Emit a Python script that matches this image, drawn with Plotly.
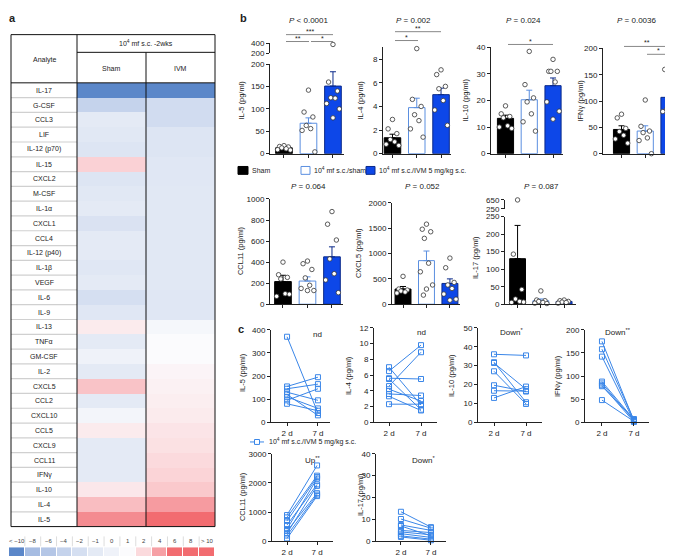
import plotly.graph_objects as go

W, H = 673, 559
FONT = "Liberation Sans, Arial, sans-serif"

# ---------------- data: panel a (heatmap) ----------------
analytes = ["IL-17", "G-CSF", "CCL3", "LIF", "IL-12 (p70)", "IL-15", "CXCL2", "M-CSF",
            "IL-1α", "CXCL1", "CCL4", "IL-12 (p40)", "IL-1β", "VEGF", "IL-6", "IL-9",
            "IL-13", "TNFα", "GM-CSF", "IL-2", "CXCL5", "CCL2", "CXCL10", "CCL5",
            "CXCL9", "CCL11", "IFNγ", "IL-10", "IL-4", "IL-5"]
sham_fold = [-11, -4, -1, -1.2, -1.5, 2.3, -1.5, -1.2, -1, -1.7, -1, -1, -1.3, -1, -2, -1.3,
             1.5, -1, 0, -1, 2.8, -1, 0.3, 1.5, -1, -1, -1, 1.6, 3, 4.8]
ivm_fold = [-11, -2.5, -2.5, -1.5, -1.5, -1.3, -1.3, -1.2, -1.2, -1.2, -1.2, -1.2, -1.2, -1.2,
            -1.3, -1.3, 0.5, 1, 1, 1.2, 1.3, 1.4, 1.5, 1.7, 1.8, 2, 2.2, 2.6, 4.2, 6.5]
legend_labels = ["< −10", "−8", "−6", "−4", "−2", "−1", "0", "1", "2", "4", "6", "8", "> 10"]
legend_values = [-11, -8, -6, -4, -2, -1, 0, 1, 2, 4, 6, 8, 11]
group_names = ["Sham", "IVM"]

# ---------------- data: panel b (bars) ----------------
b_il5 = dict(mean=[13, 68, 151], sem=[3, 12, 32],
             pts=[[18, 16, 15, 13, 11, 9, 8], [142, 93, 82, 63, 56, 52, 4],
                  [380, 160, 140, 125, 124, 112, 100, 80]])
b_il4 = dict(mean=[1.35, 3.9, 5.0], sem=[0.3, 0.8, 0.55],
             pts=[[2.9, 2.1, 1.7, 1.2, 1.0, 0.8, 0.7], [8.9, 4.6, 4.0, 3.3, 2.8, 2.1, 1.4],
                  [7.1, 6.7, 5.7, 5.5, 4.5, 3.7, 2.4]])
b_il10 = dict(mean=[13.3, 20.3, 25.6], sem=[1.2, 3.6, 2.9],
              pts=[[18, 15, 14, 13.5, 10.5, 10, 9.5], [38.5, 26, 21, 19.5, 15, 12, 8.5],
                   [35.5, 31, 31, 31, 27, 19.5, 16, 13]])
b_ifng = dict(mean=[46, 43, 107], sem=[7, 10, 15],
              pts=[[75, 68, 48, 42, 35, 28, 20], [102, 52, 43, 40, 30, 25, 0],
                   [175, 160, 140, 85, 80, 80, 75, 50]])
b_ccl11 = dict(mean=[215, 220, 450], sem=[60, 40, 95],
               pts=[[400, 280, 255, 240, 100, 75, 95], [410, 385, 330, 250, 180, 150, 130, 130],
                    [880, 760, 610, 430, 290, 230, 110]])
b_cxcl5 = dict(mean=[300, 860, 410], sem=[50, 190, 90],
               pts=[[550, 300, 280, 260, 240, 220], [1580, 1480, 1430, 1300, 810, 640, 380, 300, 180],
                    [910, 720, 430, 380, 310, 200, 100, 80]])
b_il17 = dict(mean=[130, 10, 8], sem=[95, 5, 3],
              pts=[[650, 143, 42, 15, 8, 5, 6], [38, 12, 10, 8, 5, 3, 2],
                   [12, 10, 8, 6, 5, 3]])

# ---------------- data: panel c (paired) ----------------
days = ["2 d", "7 d"]
c_il5 = ([370, 155, 145, 130, 120, 110, 95, 80], [40, 195, 165, 95, 30, 60, 145, 50])
c_il4 = ([7.0, 6.5, 5.6, 5.5, 4.6, 4.2, 3.6, 3.3, 2.3], [2.2, 9.8, 5.5, 1.6, 8.9, 2.7, 3.4, 1.5, 2.3])
c_il10 = ([36, 31.8, 31.4, 27, 19.6, 16.7, 12.9], [35.4, 10.6, 17.5, 9.7, 16.3, 16.5, 18.9])
c_ifng = ([175, 158, 142, 88, 84, 80, 78, 48], [3, 5, 2, 6, 4, 1, 7, 2])
c_ccl11 = ([900, 820, 700, 560, 420, 350, 280, 200, 100],
           [2600, 2250, 2200, 1950, 2150, 1650, 1900, 1600, 1550])
c_il17 = ([13.5, 10.2, 7.5, 7.0, 5.0, 4.3, 3.5, 2.5, 2.0], [6.5, 6.0, 5.0, 2.5, 4.0, 3.0, 1.8, 1.0, 0.5])

# ---------------- styles ----------------
BLUE = "#0d47e8"
BLUE_DARK = "#0b2a8a"
OPEN_EDGE = "#5b8fe0"
LINE_BLUE = "#3a86e8"
bar_fill = ["#000000", "#ffffff", BLUE]
bar_edge = ["#000000", OPEN_EDGE, BLUE_DARK]
err_col = ["#000000", OPEN_EDGE, BLUE_DARK]

cs_stops = [(-11, '#5b87c9'), (-8, '#a6bce2'), (-6, '#b4c6e6'), (-4, '#c5d3ec'), (-2, '#d5dff1'),
            (-1, '#e4eaf5'), (0, '#eff2f9'), (1, '#fbfbfd'), (2, '#fbdadd'), (4, '#f6a0a5'),
            (6, '#f26c70'), (11, '#f26c70')]
colorscale = [[(v + 11) / 22, c] for v, c in cs_stops]


def px(x):
    return x / W


def py(y):
    return 1 - y / H


fig = go.Figure()
layout = {}
shapes = []
annotations = []
counter = [0]

base_axis = dict(showline=True, linecolor="#222", linewidth=1, ticks="outside", ticklen=3,
                 tickwidth=1, tickcolor="#222", tickfont=dict(size=8, color="#222", family=FONT),
                 showgrid=False, zeroline=False, fixedrange=True)


def new_pair(xd, yd, xr, yr, xkw=None, ykw=None):
    counter[0] += 1
    n = counter[0]
    sx = "" if n == 1 else str(n)
    layout["xaxis" + sx] = {**base_axis, "domain": [px(xd[0]), px(xd[1])], "range": xr,
                            "anchor": "y" + sx, **(xkw or {})}
    layout["yaxis" + sx] = {**base_axis, "domain": [py(yd[1]), py(yd[0])], "range": yr,
                            "anchor": "x" + sx, **(ykw or {})}
    return "x" + sx, "y" + sx


def extra_y(xid, yd, yr, ykw=None):
    counter[0] += 1
    n = counter[0]
    layout["yaxis" + str(n)] = {**base_axis, "domain": [py(yd[1]), py(yd[0])], "range": yr,
                                "anchor": xid, **(ykw or {})}
    return "y" + str(n)


def text(x, y, s, size=8, angle=0, xanchor="center", bold=False, color="#222"):
    if bold:
        s = "<b>" + s + "</b>"
    annotations.append(dict(x=px(x), y=py(y), xref="paper", yref="paper", text=s, showarrow=False,
                            textangle=angle, xanchor=xanchor, yanchor="middle",
                            font=dict(size=size, color=color, family=FONT)))


def hline(x0, x1, y, color="#222", width=1):
    shapes.append(dict(type="line", xref="paper", yref="paper", x0=px(x0), x1=px(x1),
                       y0=py(y), y1=py(y), line=dict(color=color, width=width), layer="above"))


def vline(x, y0, y1, color="#222", width=1):
    shapes.append(dict(type="line", xref="paper", yref="paper", x0=px(x), x1=px(x),
                       y0=py(y0), y1=py(y1), line=dict(color=color, width=width), layer="above"))


# ---------------- panel a ----------------
hx, hy = new_pair((69, 207), (72, 523), [-0.5, 1.5], [len(analytes) - 0.5, -0.5],
                  xkw=dict(visible=False), ykw=dict(visible=False))
fig.add_trace(go.Heatmap(z=[[s, v] for s, v in zip(sham_fold, ivm_fold)], x=[0, 1],
                         y=list(range(len(analytes))), colorscale=colorscale, zmin=-11, zmax=11,
                         showscale=False, xaxis=hx, yaxis=hy, hoverinfo="skip"))
lx, ly = new_pair((1, 207), (544, 553), [-0.5, len(legend_values) - 0.5], [-0.5, 0.5],
                  xkw=dict(visible=False), ykw=dict(visible=False))
fig.add_trace(go.Heatmap(z=[legend_values], x=list(range(len(legend_values))), y=[0],
                         colorscale=colorscale, zmin=-11, zmax=11, showscale=False, xgap=1,
                         xaxis=lx, yaxis=ly, hoverinfo="skip"))
cell_w = (207 - 1) / len(legend_labels)
for i, lab in enumerate(legend_labels):
    text(1 + cell_w * (i + 0.5), 538, lab, size=6, color="#444")
    if i > 0:
        vline(1 + cell_w * i, 533, 543, color="#dddddd")

row_h = (523 - 72) / len(analytes)
for i, a in enumerate(analytes):
    text(36, 72 + row_h * (i + 0.5), a, size=7)
    if i > 0:
        hline(3, 69, 72 + row_h * i, color="#d0d0d0", width=1.2)
text(36, 49, "Analyte", size=7)
text(138, 32, "10<sup>4</sup> mf s.c. -2wks", size=7)
text(103, 57, group_names[0], size=7)
text(173, 57, group_names[1], size=7)
shapes.append(dict(type="rect", xref="paper", yref="paper", x0=px(3), x1=px(207), y0=py(523),
                   y1=py(23), line=dict(color="#111", width=1), layer="above"))
vline(69, 23, 523, color="#111")
vline(138, 41, 523, color="#111")
hline(69, 207, 41, color="#111")
hline(3, 207, 72, color="#111")
text(4, 6, "a", size=11, bold=True)

# ---------------- panel b ----------------
jit = [0, -0.18, 0.18, -0.09, 0.09, -0.26, 0.26, 0.0, -0.13, 0.13]


def bar_chart(d, xd, yd, xr, yr, tickvals, upper=None):
    xid, yid = new_pair(xd, yd, xr, yr,
                        xkw=dict(tickvals=[0, 1, 2], showticklabels=False),
                        ykw=dict(tickvals=tickvals))
    uid = None
    if upper:
        uid = extra_y(xid, upper["yd"], upper["yr"], ykw=dict(tickvals=upper["ticks"]))
    for i in range(3):
        fig.add_trace(go.Bar(x=[i], y=[d["mean"][i]], width=0.68,
                             marker=dict(color=bar_fill[i], line=dict(color=bar_edge[i], width=1)),
                             error_y=dict(type="data", array=[d["sem"][i]], arrayminus=[0],
                                          symmetric=False, color=err_col[i], thickness=1, width=3),
                             xaxis=xid, yaxis=yid, hoverinfo="skip"))
    for i in range(3):
        lo_x, lo_y, hi_x, hi_y = [], [], [], []
        for k, v in enumerate(d["pts"][i]):
            xv = i + jit[k % len(jit)]
            if upper and v > upper["yr"][0]:
                hi_x.append(xv)
                hi_y.append(v)
            else:
                lo_x.append(xv)
                lo_y.append(v)
        mk = dict(symbol="circle", size=4.5, color="white", line=dict(color="#333", width=0.8))
        fig.add_trace(go.Scatter(x=lo_x, y=lo_y, mode="markers", marker=mk, cliponaxis=False,
                                 xaxis=xid, yaxis=yid, hoverinfo="skip"))
        if hi_x:
            fig.add_trace(go.Scatter(x=hi_x, y=hi_y, mode="markers", marker=mk, cliponaxis=False,
                                     xaxis=xid, yaxis=uid, hoverinfo="skip"))


bar_chart(b_il5, (262, 336), (53, 144), [-0.57, 2.45], [0, 200], [0, 50, 100, 150, 200],
          upper=dict(yd=(32, 42), yr=[200, 400], ticks=[200, 400]))
bar_chart(b_il4, (375, 443), (36, 144), [-0.39, 2.41], [0, 9], [0, 2, 4, 6, 8])
bar_chart(b_il10, (483, 555), (36, 144), [-0.61, 2.42], [0, 40], [0, 10, 20, 30, 40])
bar_chart(b_ifng, (595, 670), (37, 144), [-0.78, 2.38], [0, 200], [0, 50, 100, 150, 200])
bar_chart(b_ccl11, (262, 335), (190, 297), [-0.53, 2.45], [0, 1000], [0, 200, 400, 600, 800, 1000])
bar_chart(b_cxcl5, (384, 452), (194, 297), [-0.47, 2.43], [0, 2000], [0, 500, 1000, 1500, 2000])
bar_chart(b_il17, (497, 568), (208, 297), [-0.54, 2.51], [0, 250], [0, 50, 100, 150, 200, 250],
          upper=dict(yd=(191, 200), yr=[250, 650], ticks=[250, 650]))

# titles, labels, brackets
for x, y, s in [(300, 9, "<i>P</i> < 0.0001"), (405, 9, "<i>P</i> = 0.002"), (515, 9, "<i>P</i> = 0.024"),
                (628, 9, "<i>P</i> = 0.0036"), (300, 177, "<i>P</i> = 0.064"),
                (414, 177, "<i>P</i> = 0.052"), (533, 177, "<i>P</i> = 0.087")]:
    text(x, y, s, size=8)
for x, y, s in [(234, 90, "IL-5 (pg/ml)"), (353, 90, "IL-4 (pg/ml)"), (458, 90, "IL-10 (pg/ml)"),
                (573, 90, "IFNγ (pg/ml)"), (232, 243, "CCL11 (pg/ml)"), (350, 245, "CXCL5 (pg/ml)"),
                (468, 250, "IL-17 (pg/ml)")]:
    text(x, y, s, size=7.5, angle=-90)
for x0, x1, y, star in [(278, 325, 23, "***"), (278, 301, 30, "**"), (303, 325, 30, "*"),
                        (387, 433, 20, "**"), (387, 410, 29, "*"), (500, 545, 33, "*"),
                        (616, 661, 35, "**"), (639, 661, 43, "*")]:
    hline(x0, x1, y, color="#888", width=1)
    text((x0 + x1) / 2, y - 3.5, star, size=7)
text(236, 6, "b", size=11, bold=True)

# legend for b
shapes.append(dict(type="rect", xref="paper", yref="paper", x0=px(230), x1=px(240), y0=py(165),
                   y1=py(157), fillcolor="#000", line=dict(color="#000", width=1)))
text(242, 161, "Sham", size=7, xanchor="left")
shapes.append(dict(type="rect", xref="paper", yref="paper", x0=px(293), x1=px(302), y0=py(165),
                   y1=py(157), fillcolor="#fff", line=dict(color=OPEN_EDGE, width=1)))
text(304, 161, "10<sup>4</sup> mf s.c./sham", size=7, xanchor="left")
shapes.append(dict(type="rect", xref="paper", yref="paper", x0=px(358), x1=px(367), y0=py(165),
                   y1=py(157), fillcolor=BLUE, line=dict(color=BLUE_DARK, width=1)))
text(369, 161, "10<sup>4</sup> mf s.c./IVM 5 mg/kg s.c.", size=7, xanchor="left")

# ---------------- panel c ----------------


def pair_chart(d, xd, yd, xr, yr, tickvals):
    xid, yid = new_pair(xd, yd, xr, yr,
                        xkw=dict(tickvals=[0, 1], ticktext=days),
                        ykw=dict(tickvals=tickvals))
    xs, ys = [], []
    for a, b in zip(d[0], d[1]):
        xs += [0, 1, None]
        ys += [a, b, None]
    fig.add_trace(go.Scatter(x=xs, y=ys, mode="lines+markers", cliponaxis=False,
                             line=dict(color=LINE_BLUE, width=1),
                             marker=dict(symbol="square-open", size=5, color=LINE_BLUE,
                                         line=dict(width=1, color=LINE_BLUE)),
                             xaxis=xid, yaxis=yid, hoverinfo="skip"))


pair_chart(c_il5, (263, 322), (323, 417), [-0.52, 1.39], [0, 400], [0, 100, 200, 300, 400])
pair_chart(c_il4, (366, 429), (321, 417), [-0.47, 1.5], [0, 12], [0, 2, 4, 6, 8, 10, 12])
pair_chart(c_il10, (470, 534), (321, 417), [-0.5, 1.5], [0, 50], [0, 10, 20, 30, 40, 50])
pair_chart(c_ifng, (577, 641), (323, 417), [-0.53, 1.47], [0, 200], [0, 50, 100, 150, 200])
pair_chart(c_ccl11, (264, 325), (449, 538), [-0.5, 1.53], [0, 3000], [0, 1000, 2000, 3000])
pair_chart(c_il17, (368, 438), (449, 538), [-0.83, 1.5], [0, 40], [0, 10, 20, 30, 40])

for x, y, s in [(309, 328, "nd"), (413, 326, "nd"), (503, 325, "Down<sup>*</sup>"),
                (610, 325, "Down<sup>**</sup>"), (304, 455, "Up<sup>**</sup>"),
                (415, 455, "Down<sup>*</sup>")]:
    text(x, y, s, size=8)
for x, y, s in [(234, 367, "IL-5 (pg/ml)"), (340, 370, "IL-4 (pg/ml)"), (443, 370, "IL-10 (pg/ml)"),
                (549, 370, "IFNγ (pg/ml)"), (234, 493, "CCL11 (pg/ml)"), (352, 491, "IL-17 (pg/ml)")]:
    text(x, y, s, size=7.5, angle=-90)
text(233, 322, "c", size=11, bold=True)

# legend for c
hline(242, 256, 437, color=LINE_BLUE, width=1)
shapes.append(dict(type="rect", xref="paper", yref="paper", x0=px(246.5), x1=px(251.5), y0=py(439.5),
                   y1=py(434.5), fillcolor="#fff", line=dict(color=LINE_BLUE, width=1)))
text(259, 437, "10<sup>4</sup> mf s.c./IVM 5 mg/kg s.c.", size=7, xanchor="left")

fig.update_layout(width=W, height=H, margin=dict(l=0, r=0, t=0, b=0), showlegend=False,
                  paper_bgcolor="white", plot_bgcolor="rgba(0,0,0,0)", barmode="overlay",
                  font=dict(family=FONT, size=8, color="#222"),
                  shapes=shapes, annotations=annotations, **layout)
fig.write_html("out.html")
